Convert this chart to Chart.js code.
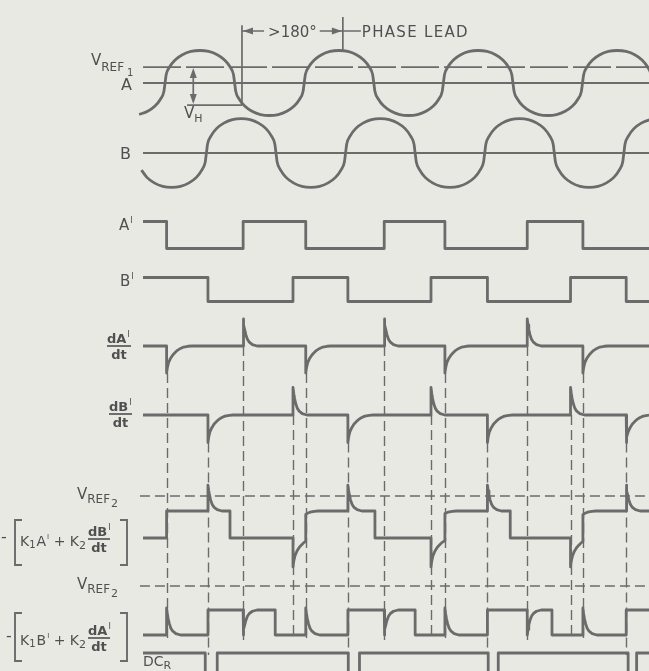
<!DOCTYPE html>
<html>
<head>
<meta charset="utf-8">
<script src="https://cdn.jsdelivr.net/npm/chart.js@4/dist/chart.umd.min.js"></script>
<style>
  html, body { margin: 0; padding: 0; background: #e9e9e4; }
  #wrap { width: 649px; height: 671px; position: relative; }
</style>
</head>
<body>
<div id="wrap"><canvas id="timing"></canvas></div>
<script>
// ---- data (phase in degrees of A, 0 = first rising zero crossing of A) ----
const phaseMin = -427, phaseMax = 1252;
const traceStart = -57;
const refStart = -65;
const sineStart = -68;

// one period of the input waves, (phase, level)
const sineShape = [[0,0],[3,0.26],[12,0.5],[26,0.71],[45,0.87],[67,0.97],[90,1],[113,0.97],[135,0.87],[154,0.71],[168,0.5],[177,0.26],
                   [180,0],[183,-0.26],[192,-0.5],[206,-0.71],[225,-0.87],[247,-0.97],[270,-1],[293,-0.97],[315,-0.87],[334,-0.71],[348,-0.5],[357,-0.26]];
const aSineCycles = [-360, 0, 360, 720, 1080];
const bSineCycles = [-253, 107, 467, 827, 1187];
const vref1Level = 0.49;
const vhLevel = -0.68;

// square wave edges
const aPrimeFall = [4, 364, 724, 1081];
const aPrimeRise = [202, 567, 937];
const bPrimeFall = [111, 473, 834, 1193];
const bPrimeRise = [331, 688, 1049];

// combined outputs
const cDrop = [168, 543, 893];
const dDrop = [285, 647, 1001];
const dcrPulseStart = [104, 474, 836, 1198];
const dcrPulseEnd = [135, 503, 862, 1220];

// spike decay tables (degrees after edge, fraction left)
const slowDecay = [[0,1],[2,0.8],[5,0.62],[10,0.46],[16,0.33],[22,0.24],[28,0.16],[36,0.09],[44,0.04],[55,0.01],[65,0]];
const fastDecay = [[0,1],[2,0.78],[4,0.61],[7,0.42],[11,0.25],[16,0.14],[24,0.05],[36,0]];

const derivSpike = 1;
const cSpikeUp = 0.96, cSpikeDown = -1.07;
const dSpikeUp = 1.08, dSpikeDown = -1;
const vref2LevelC = 1.56, vref2LevelD = 1.96;

// annotation marks
const phaseMarkStart = 199, phaseMarkEnd = 460;
const phaseArrowLevel = 1.6, phaseTickTop = 2.03, phaseTickBottom = 1.0, leadLineTop = 1.78;
const vhArrowPhase = 73, vhLineStart = 57;

// ---- layout ----
const H = 671;
const ink = '#6b6b6b';
const textInk = '#505050';
const fontFamily = '"DejaVu Sans", "Liberation Sans", sans-serif';
const rowLayout = {
  yA:  { zeroPx: 83,    pxPerUnit: 32.5 },
  yB:  { zeroPx: 153,   pxPerUnit: 34.3 },
  yAp: { zeroPx: 248.5, pxPerUnit: 27 },
  yBp: { zeroPx: 301.5, pxPerUnit: 24 },
  ydA: { zeroPx: 346,   pxPerUnit: 27 },
  ydB: { zeroPx: 415,   pxPerUnit: 27.5 },
  yC:  { zeroPx: 538,   pxPerUnit: 27 },
  yD:  { zeroPx: 635,   pxPerUnit: 25 },
  yR:  { zeroPx: 653,   pxPerUnit: 20 }
};

function sinePoints(cycles) {
  const pts = [];
  cycles.forEach(c => sineShape.forEach(p => {
    const t = c + p[0];
    if (t >= sineStart && t <= phaseMax + 60) pts.push({ x: t, y: p[1] });
  }));
  return pts;
}

function buildTrace(startLevel, steps, spikes) {
  steps = steps.slice().sort((a, b) => a[0] - b[0]);
  const times = new Set([traceStart, phaseMax]);
  const edges = new Set();
  steps.forEach(s => { times.add(s[0]); edges.add(s[0]); });
  spikes.forEach(s => {
    times.add(s[0]); edges.add(s[0]);
    s[2].forEach(d => times.add(s[0] + d[0]));
  });
  const valueAt = (t, after) => {
    let lv = startLevel;
    steps.forEach(s => { if (after ? s[0] <= t : s[0] < t) lv = s[1]; });
    spikes.forEach(s => {
      if (!(after ? s[0] <= t : s[0] < t)) return;
      const dt = t - s[0], tab = s[2];
      if (dt > tab[tab.length - 1][0]) return;
      if (dt === 0) { lv += s[1]; return; }
      for (let i = 1; i < tab.length; i++) {
        if (dt <= tab[i][0]) {
          const f = (dt - tab[i-1][0]) / (tab[i][0] - tab[i-1][0]);
          lv += s[1] * (tab[i-1][1] + f * (tab[i][1] - tab[i-1][1]));
          break;
        }
      }
    });
    return lv;
  };
  const pts = [];
  [...times].filter(t => t >= traceStart && t <= phaseMax).sort((a, b) => a - b).forEach(t => {
    if (edges.has(t)) pts.push({ x: t, y: valueAt(t, false) });
    pts.push({ x: t, y: valueAt(t, true) });
  });
  return pts;
}

const edgeSteps = (times, level) => times.map(t => [t, level]);
const edgeSpikes = (times, amp, table) => times.map(t => [t, amp, table]);

const aPrimePts = buildTrace(1, [...edgeSteps(aPrimeFall, 0), ...edgeSteps(aPrimeRise, 1)], []);
const bPrimePts = buildTrace(1, [...edgeSteps(bPrimeFall, 0), ...edgeSteps(bPrimeRise, 1)], []);
const dAPts = buildTrace(0, [], [...edgeSpikes(aPrimeFall, -derivSpike, slowDecay), ...edgeSpikes(aPrimeRise, derivSpike, fastDecay)]);
const dBPts = buildTrace(0, [], [...edgeSpikes(bPrimeFall, -derivSpike, slowDecay), ...edgeSpikes(bPrimeRise, derivSpike, fastDecay)]);
const cPts = buildTrace(0, [...edgeSteps(aPrimeFall, 1), ...edgeSteps(cDrop, 0)],
  [...edgeSpikes(bPrimeFall, cSpikeUp, fastDecay), ...edgeSpikes(bPrimeRise, cSpikeDown, slowDecay)]);
const dPts = buildTrace(0, [...edgeSteps(bPrimeFall, 1), ...edgeSteps(dDrop, 0)],
  [...edgeSpikes(aPrimeFall, dSpikeUp, fastDecay), ...edgeSpikes(aPrimeRise, dSpikeDown, fastDecay)]);
const dcrPts = buildTrace(0, [...edgeSteps(dcrPulseStart, -1), ...edgeSteps(dcrPulseEnd, 0)], []);

const hline = (level, from) => [{ x: from, y: level }, { x: phaseMax, y: level }];

function wave(data, axis, extra) {
  return Object.assign({ data, yAxisID: axis, borderColor: ink, borderWidth: 2.8, pointRadius: 0, fill: false,
                         borderJoinStyle: 'round', borderCapStyle: 'butt' }, extra || {});
}

const datasets = [
  wave(hline(0, traceStart), 'yA', { borderWidth: 2 }),
  wave(hline(vref1Level, traceStart), 'yA', { borderWidth: 1.7, borderDash: [38, 5] }),
  wave(sinePoints(aSineCycles), 'yA', { cubicInterpolationMode: 'monotone' }),
  wave(hline(0, traceStart), 'yB', { borderWidth: 2 }),
  wave(sinePoints(bSineCycles), 'yB', { cubicInterpolationMode: 'monotone' }),
  wave(aPrimePts, 'yAp'),
  wave(bPrimePts, 'yBp'),
  wave(dAPts, 'ydA'),
  wave(dBPts, 'ydB'),
  wave(hline(vref2LevelC, refStart), 'yC', { borderWidth: 1.5, borderDash: [10, 5] }),
  wave(cPts, 'yC'),
  wave(hline(vref2LevelD, refStart), 'yD', { borderWidth: 1.5, borderDash: [10, 5] }),
  wave(dPts, 'yD'),
  wave(dcrPts, 'yR')
];

const scales = { x: { type: 'linear', display: false, min: phaseMin, max: phaseMax, bounds: 'data' } };
Object.keys(rowLayout).forEach(id => {
  const r = rowLayout[id];
  scales[id] = { type: 'linear', axis: 'y', display: false, bounds: 'data',
                 min: -(H - r.zeroPx) / r.pxPerUnit, max: r.zeroPx / r.pxPerUnit };
});

// dashed guides: [phase, top row, top level, bottom row, bottom level]
const guides = [
  ...aPrimeFall.map(t => [t, 'ydA', -1, 'yD', -0.2]),
  ...aPrimeRise.map(t => [t, 'ydA', 0, 'yD', -0.2]),
  ...bPrimeFall.map(t => [t, 'ydB', -1, 'yR', -0.1]),
  ...bPrimeRise.map(t => [t, 'ydB', 0, 'yD', -0.2])
];

const guidePlugin = {
  id: 'guides',
  beforeDatasetsDraw(chart) {
    const { ctx, scales: s } = chart;
    ctx.save();
    ctx.strokeStyle = ink;
    ctx.lineWidth = 1.4;
    ctx.setLineDash([10, 5]);
    guides.forEach(g => {
      const x = Math.round(s.x.getPixelForValue(g[0])) + 0.5;
      ctx.beginPath();
      ctx.moveTo(x, s[g[1]].getPixelForValue(g[2]));
      ctx.lineTo(x, s[g[3]].getPixelForValue(g[4]));
      ctx.stroke();
    });
    ctx.restore();
  }
};

function drawParts(ctx, x, y, parts) {
  parts.forEach(p => {
    ctx.font = `${p[1]}px ${fontFamily}`;
    x += p[3] || 0;
    ctx.fillText(p[0], x, y + p[2]);
    x += ctx.measureText(p[0]).width;
  });
  return x;
}

function drawFrac(ctx, x, yBar, num, den, w) {
  ctx.font = `bold 13px ${fontFamily}`;
  ctx.fillText(num, x, yBar - 3);
  const nw = ctx.measureText(num).width;
  ctx.font = `8px ${fontFamily}`;
  ctx.fillText('I', x + nw + 1, yBar - 9);
  ctx.font = `bold 13px ${fontFamily}`;
  const dw = ctx.measureText(den).width;
  ctx.fillText(den, x + (w - dw) / 2, yBar + 13);
  ctx.fillRect(x, yBar - 0.8, w, 1.6);
}

function bracket(ctx, x, top, bottom, dir) {
  ctx.beginPath();
  ctx.moveTo(x + 7 * dir, top);
  ctx.lineTo(x, top);
  ctx.lineTo(x, bottom);
  ctx.lineTo(x + 7 * dir, bottom);
  ctx.stroke();
}

function arrowHead(ctx, x, y, dx, dy) {
  ctx.beginPath();
  ctx.moveTo(x, y);
  ctx.lineTo(x - dx * 10 - dy * 3.5, y - dy * 10 - dx * 3.5);
  ctx.lineTo(x - dx * 10 + dy * 3.5, y - dy * 10 + dx * 3.5);
  ctx.closePath();
  ctx.fill();
}

const labelPlugin = {
  id: 'labels',
  afterDatasetsDraw(chart) {
    const { ctx, scales: s } = chart;
    const X = v => s.x.getPixelForValue(v);
    const Y = (row, v) => s[row].getPixelForValue(v);
    ctx.save();
    ctx.fillStyle = textInk;
    ctx.strokeStyle = ink;
    ctx.textBaseline = 'alphabetic';

    // phase lead annotation
    ctx.lineWidth = 1.7;
    const ya = Y('yA', phaseArrowLevel);
    const x1 = X(phaseMarkStart), x2 = X(phaseMarkEnd);
    ctx.beginPath();
    ctx.moveTo(x1, Y('yA', leadLineTop)); ctx.lineTo(x1, Y('yA', vhLevel));
    ctx.moveTo(X(vhLineStart), Y('yA', vhLevel)); ctx.lineTo(x1, Y('yA', vhLevel));
    ctx.moveTo(x2, Y('yA', phaseTickTop)); ctx.lineTo(x2, Y('yA', phaseTickBottom));
    ctx.stroke();
    ctx.font = `15px ${fontFamily}`;
    const lbl = '>180°';
    const lw = ctx.measureText(lbl).width;
    const lx = (x1 + x2) / 2 - lw / 2;
    ctx.fillText(lbl, lx, ya + 6);
    ctx.beginPath();
    ctx.moveTo(x1, ya); ctx.lineTo(lx - 4, ya);
    ctx.moveTo(lx + lw + 3, ya); ctx.lineTo(x2 + 18, ya);
    ctx.stroke();
    ctx.fillStyle = ink;
    arrowHead(ctx, x1 + 1, ya, -1, 0);
    arrowHead(ctx, x2 - 1, ya, 1, 0);
    ctx.fillStyle = textInk;
    ctx.letterSpacing = '1.3px';
    ctx.fillText('PHASE LEAD', x2 + 19, ya + 6);
    ctx.letterSpacing = '0px';

    // hysteresis marker
    const xv = X(vhArrowPhase);
    ctx.beginPath();
    ctx.moveTo(xv, Y('yA', vref1Level) + 4); ctx.lineTo(xv, Y('yA', vhLevel) - 4);
    ctx.stroke();
    ctx.fillStyle = ink;
    arrowHead(ctx, xv, Y('yA', vref1Level) + 1, 0, -1);
    arrowHead(ctx, xv, Y('yA', vhLevel) - 1, 0, 1);
    ctx.fillStyle = textInk;

    // row labels
    drawParts(ctx, 91, Y('yA', vref1Level), [['V', 15, -2], ['REF', 12, 4], ['1', 10, 9, 3]]);
    drawParts(ctx, 121, Y('yA', 0), [['A', 16, 7]]);
    drawParts(ctx, 184, Y('yA', vhLevel), [['V', 15, 13], ['H', 11, 17]]);
    drawParts(ctx, 120, Y('yB', 0), [['B', 16, 6]]);
    drawParts(ctx, 119, Y('yAp', 1), [['A', 15, 8], ['I', 8, 1, 1]]);
    drawParts(ctx, 120, Y('yBp', 1), [['B', 15, 8], ['I', 8, 1, 1]]);
    drawFrac(ctx, 107, Y('ydA', 0), 'dA', 'dt', 24);
    drawFrac(ctx, 109, Y('ydB', 0) - 1, 'dB', 'dt', 23);
    [['yC', vref2LevelC], ['yD', vref2LevelD]].forEach(r => {
      drawParts(ctx, 77, Y(r[0], r[1]), [['V', 15, 3], ['REF', 12, 7], ['2', 11, 11, 1]]);
    });

    // bracketed sums
    ctx.lineWidth = 1.9;
    [['yC', 'A', 'dB', 8, 1, -18, 27, 1], ['yD', 'B', 'dA', 10, 3, -22, 26, 6]].forEach(f => {
      const y0 = Y(f[0], 0);
      drawParts(ctx, f[7], y0, [['-', 16, f[3] - 4]]);
      bracket(ctx, 15, y0 + f[5], y0 + f[6], 1);
      bracket(ctx, 127, y0 + f[5], y0 + f[6], -1);
      const xe = drawParts(ctx, 20, y0, [['K', 14, f[3]], ['1', 10, f[3] + 2], [f[1], 14, f[3], 1], ['I', 7, f[3] - 7, 1],
                                         [' + ', 14, f[3]], ['K', 14, f[3]], ['2', 11, f[3] + 3]]);
      drawFrac(ctx, xe + 2, y0 + f[4], f[2], 'dt', 22);
    });

    drawParts(ctx, 143, Y('yR', 0), [['DC', 14, 13], ['R', 11, 16]]);
    ctx.restore();
  }
};

new Chart(document.getElementById('timing'), {
  type: 'line',
  data: { datasets },
  options: {
    responsive: true,
    maintainAspectRatio: false,
    animation: false,
    devicePixelRatio: 1,
    layout: { padding: 0 },
    scales,
    elements: { point: { radius: 0 }, line: { tension: 0 } },
    plugins: { legend: { display: false }, tooltip: { enabled: false } }
  },
  plugins: [guidePlugin, labelPlugin]
});
</script>
</body>
</html>
